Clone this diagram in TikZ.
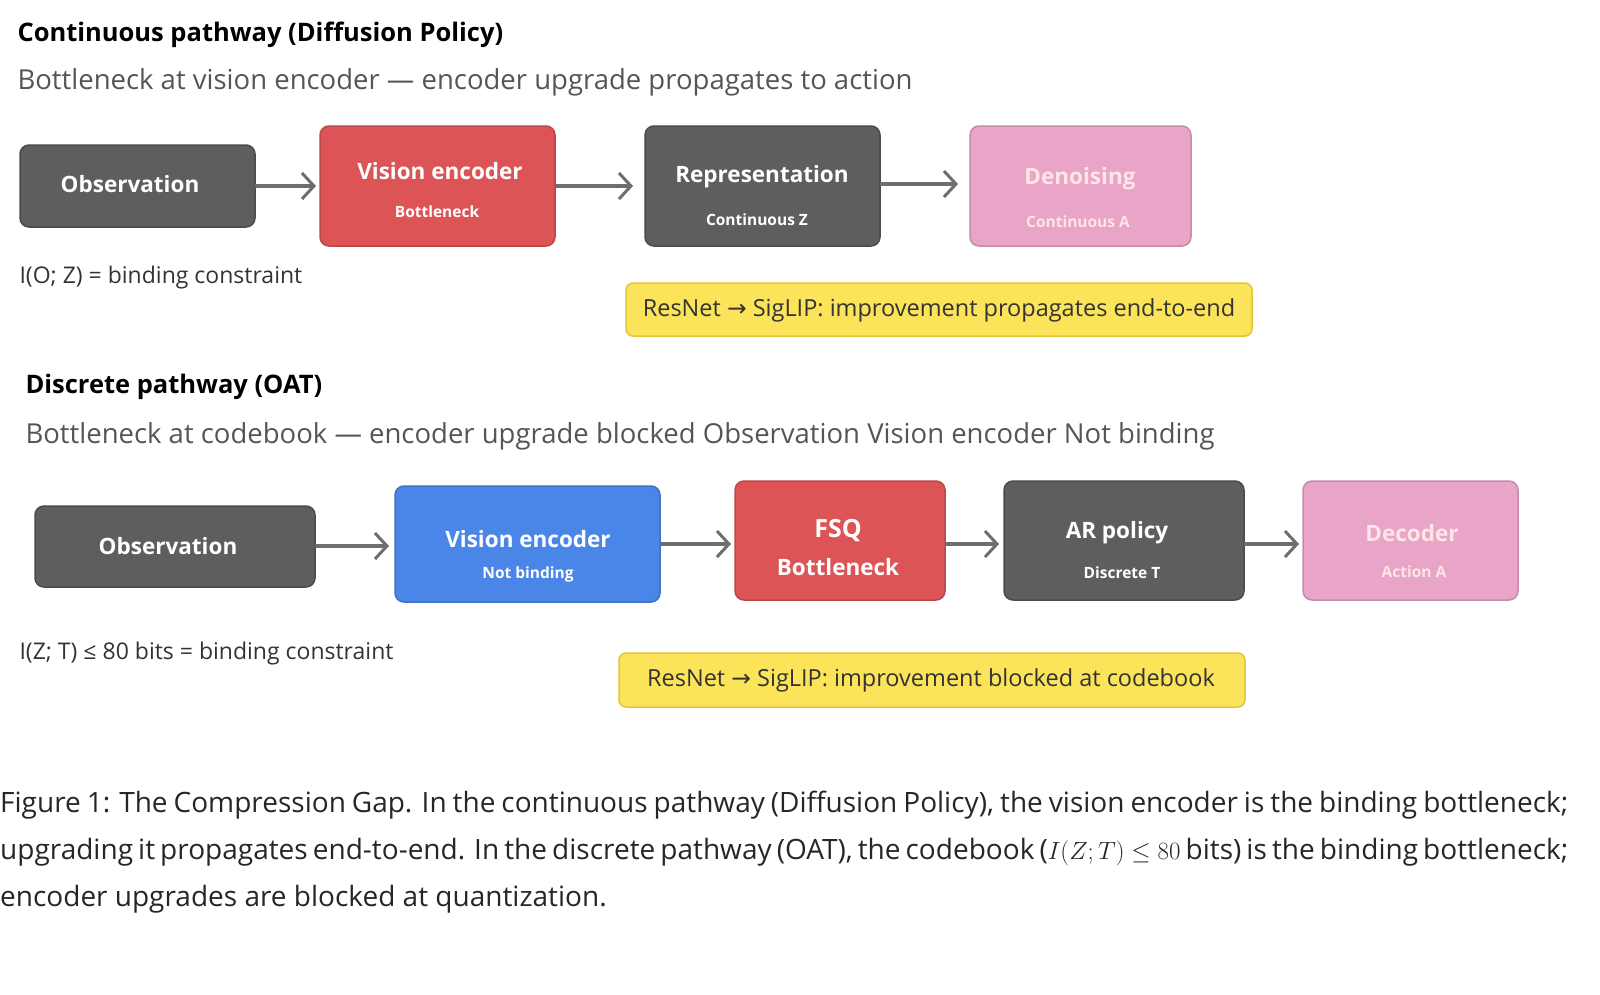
\documentclass[tikz,border=0pt]{standalone}
\usepackage{fontspec}
\setmainfont{Open Sans}
\newfontfamily\symf{DejaVu Sans}
\usetikzlibrary{arrows.meta}
\definecolor{dg}{HTML}{5E5E5E}
\definecolor{rd}{HTML}{DC5455}
\definecolor{pk}{HTML}{E8A5C7}
\definecolor{bl}{HTML}{4A86E8}
\definecolor{yl}{HTML}{FBE459}
\definecolor{ylb}{HTML}{E2C53E}
\definecolor{gt}{HTML}{555555}
\begin{document}
\begin{tikzpicture}[x=1pt,y=-1pt,
 box/.style={rounded corners=9pt,line width=1.5pt},
 t1/.style={text=white,font=\fontsize{22.5}{25}\selectfont\bfseries},
 t2/.style={text=white,font=\fontsize{15.5}{18}\selectfont\bfseries},
 arr/.style={-{Straight Barb[length=12pt,width=26pt,line width=3pt]},line width=3.5pt,draw=dg!90},
 note/.style={anchor=west,text=black!80,font=\fontsize{23}{26}\selectfont},
 ttl/.style={anchor=west,font=\fontsize{25.5}{28}\selectfont\bfseries},
 sub/.style={anchor=west,text=gt,font=\fontsize{27.5}{30}\selectfont},
 yt/.style={font=\fontsize{23.5}{26}\selectfont,text=black!80}]
\useasboundingbox (0,0) rectangle (1600,994);
% top
\node[ttl] (t1) at (14,35) {Continuous pathway (Diffusion Policy)};
\node[sub] (s1) at (14,82) {Bottleneck at vision encoder — encoder upgrade propagates to action};
\draw[box,fill=dg,draw=dg!80!black] (20,145) rectangle (255,227); \node[t1] (a1) at (130,184) {Observation};
\draw[box,fill=rd,draw=rd!85!black] (320,126) rectangle (555,246); \node[t1] (b1) at (440,171) {Vision encoder}; \node[t2] at (437,212) {Bottleneck};
\draw[box,fill=dg,draw=dg!80!black] (645,126) rectangle (880,246); \node[t1] (c1) at (762,177) {Representation}; \node[t2] at (757,220) {Continuous Z};
\draw[box,fill=pk,draw=pk!85!black] (970,126) rectangle (1191,246); \node[t1,text=pink!40] (d1) at (1080,179) {Denoising}; \node[t2,text=pink!40] at (1078,222) {Continuous A};
\coordinate (e1) at (255,186); \coordinate (f1) at (316,186);
\draw[arr] (e1) -- (f1);
\coordinate (e2) at (555,186); \coordinate (f2) at (633,186);
\draw[arr] (e2) -- (f2);
\coordinate (e3) at (880,184); \coordinate (f3) at (958,184);
\draw[arr] (e3) -- (f3);
\node[note] (n1) at (16,278) {I(O; Z) = binding constraint};
\draw[rounded corners=7pt,fill=yl,draw=ylb,line width=1.5pt] (626,283) rectangle (1252,336);
\node[yt] (y1) at (939,310) {ResNet {\symf →} SigLIP: improvement propagates end-to-end};
% bottom
\node[ttl] (t2) at (22,387) {Discrete pathway (OAT)};
\node[sub] (s2) at (22,436) {Bottleneck at codebook — encoder upgrade blocked Observation Vision encoder Not binding};
\draw[box,fill=dg,draw=dg!80!black] (35,506) rectangle (315,587); \node[t1] (a2) at (168,546) {Observation};
\draw[box,fill=bl,draw=bl!85!black] (395,486) rectangle (660,602); \node[t1] (b2) at (528,539) {Vision encoder}; \node[t2] at (528,574) {Not binding};
\draw[box,fill=rd,draw=rd!85!black] (735,481) rectangle (945,600); \node[t1,font=\fontsize{25}{28}\selectfont\bfseries] (c2) at (838,531) {FSQ}; \node[t1] at (838,567) {Bottleneck};
\draw[box,fill=dg,draw=dg!80!black] (1004,481) rectangle (1244,600); \node[t1] (d2) at (1117,533) {AR policy}; \node[t2] at (1122,573) {Discrete T};
\draw[box,fill=pk,draw=pk!85!black] (1303,481) rectangle (1518,600); \node[t1,text=pink!40] (g2) at (1412,533) {Decoder}; \node[t2,text=pink!40] at (1414,572) {Action A};
\coordinate (e4) at (315,546); \coordinate (f4) at (389,546);
\draw[arr] (e4) -- (f4);
\coordinate (e5) at (660,544); \coordinate (f5) at (731,544);
\draw[arr] (e5) -- (f5);
\coordinate (e6) at (945,544); \coordinate (f6) at (999,544);
\draw[arr] (e6) -- (f6);
\coordinate (e7) at (1244,544); \coordinate (f7) at (1299,544);
\draw[arr] (e7) -- (f7);
\node[note] (n2) at (16,654) {I(Z; T) ≤ 80 bits = binding constraint};
\draw[rounded corners=7pt,fill=yl,draw=ylb,line width=1.5pt] (619,653) rectangle (1245,707);
\node[yt] (y2) at (931,680) {ResNet {\symf →} SigLIP: improvement blocked at codebook};
% caption
\node[anchor=north west,inner sep=0pt,text width=1568pt,align=justify,font=\fontsize{28}{47}\selectfont,text=black!85] (cap) at (0,791)
{Figure 1: The Compression Gap. In the continuous pathway (Diffusion Policy), the vision encoder is the binding bottleneck; upgrading it propagates end-to-end. In the discrete pathway (OAT), the codebook ($I(Z;T)\leq 80$ bits) is the binding bottleneck; encoder upgrades are blocked at quantization.};
\end{tikzpicture}
\end{document}
